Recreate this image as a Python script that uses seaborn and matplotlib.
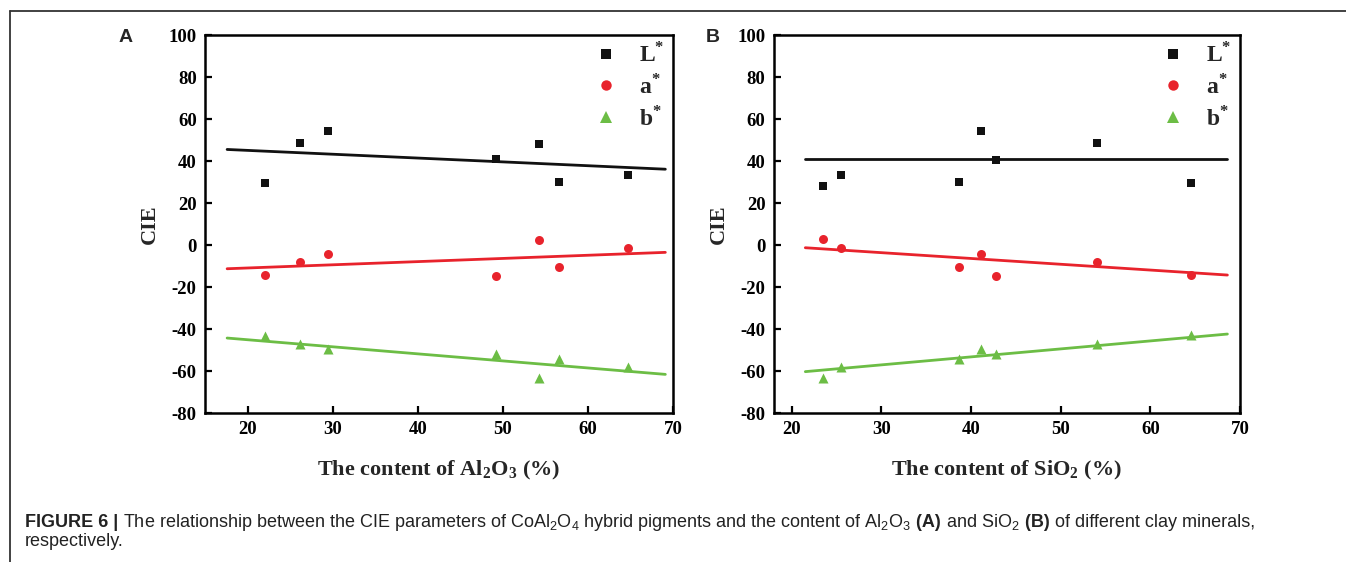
import numpy as np
import pandas as pd
import matplotlib
matplotlib.use("Agg")
import matplotlib.pyplot as plt
from matplotlib.lines import Line2D
import seaborn as sns

# ---- data -------------------------------------------------------------
# Panel A: CIE values against Al2O3 content (%)
al2o3 = [22.1, 26.2, 29.5, 49.2, 54.3, 56.6, 64.7]
L_a = [29.6, 48.8, 54.5, 40.8, 48.0, 30.2, 33.4]
a_a = [-14.3, -8.2, -4.4, -14.8, 2.5, -10.7, -1.6]
b_a = [-43.3, -47.2, -49.4, -52.1, -63.1, -54.3, -58.3]
# linear fits for panel A (x range and fitted values at the ends)
fit_x_a = [17.6, 69.1]
fitL_a = [45.5, 36.1]
fita_a = [-11.3, -3.5]
fitb_a = [-44.3, -61.6]

# Panel B: CIE values against SiO2 content (%)
sio2 = [23.5, 25.5, 38.7, 41.1, 42.8, 54.1, 64.5]
L_b = [28.2, 33.4, 30.2, 54.3, 40.6, 48.8, 29.6]
a_b = [2.7, -1.4, -10.7, -4.3, -14.8, -8.2, -14.3]
b_b = [-63.1, -58.0, -54.3, -49.4, -52.1, -47.2, -43.0]
fit_x_b = [21.5, 68.6]
fitL_b = [40.8, 40.8]
fita_b = [-1.3, -14.3]
fitb_b = [-60.3, -42.4]

series_names = ["L*", "a*", "b*"]
series_labels = [r"L$^{\mathbf{*}}$", r"a$^{\mathbf{*}}$", r"b$^{\mathbf{*}}$"]
yticks = [-80, -60, -40, -20, 0, 20, 40, 60, 80, 100]
xticks = [20, 30, 40, 50, 60, 70]

# ---- style ------------------------------------------------------------
sns.set_theme(style="white")
plt.rcParams["font.family"] = ["Liberation Serif", "DejaVu Serif"]
plt.rcParams["axes.unicode_minus"] = False
plt.rcParams["mathtext.fontset"] = "custom"
plt.rcParams["mathtext.rm"] = "Liberation Sans"
plt.rcParams["mathtext.bf"] = "Liberation Serif:bold"
plt.rcParams["mathtext.it"] = "Liberation Sans:italic"

colors = {"L*": "#111111", "a*": "#e8232c", "b*": "#6cbd45"}
markers = {"L*": "s", "a*": "o", "b*": "^"}
msizes = {"L*": 30, "a*": 42, "b*": 52}

W, H = 1346, 562
fig = plt.figure(figsize=(W / 100, H / 100), dpi=100)
axA = fig.add_axes([0.1523, 0.2651, 0.3477, 0.6726])
axB = fig.add_axes([0.5750, 0.2651, 0.3462, 0.6726])


def draw_panel(ax, x, ys, fit_x, fits, xlim, xlabel, letter, letter_px):
    for name, y, fy in zip(series_names, ys, fits):
        df = pd.DataFrame({"x": x, "y": y})
        sns.scatterplot(data=df, x="x", y="y", ax=ax, color=colors[name],
                        marker=markers[name], s=msizes[name], linewidth=0,
                        legend=False, zorder=3)
        fdf = pd.DataFrame({"x": fit_x, "y": fy})
        sns.lineplot(data=fdf, x="x", y="y", ax=ax, color=colors[name],
                     linewidth=2.0, legend=False, zorder=2)
    ax.set_xlim(*xlim)
    ax.set_ylim(-80, 100)
    ax.set_xticks(xticks)
    ax.set_yticks(yticks)
    for s in ax.spines.values():
        s.set_linewidth(1.8)
        s.set_color("black")
    ax.tick_params(axis="both", direction="in", length=5, width=1.6,
                   bottom=True, left=True, top=False, right=False,
                   labelsize=13.5, pad=6, colors="black")
    for lab in ax.get_xticklabels() + ax.get_yticklabels():
        lab.set_fontweight("bold")
    ax.set_xlabel(xlabel, fontsize=16, fontweight="bold", labelpad=15)
    ax.set_ylabel("CIE", fontsize=16, fontweight="bold", labelpad=6)

    handles = [Line2D([], [], linestyle="none", marker=markers[n],
                      color=colors[n], markersize=ms, markeredgewidth=0)
               for n, ms in zip(series_names, [6.5, 7.5, 8])]
    ax.legend(handles, series_labels, loc="upper right", frameon=False,
              bbox_to_anchor=(1.012, 1.018),
              prop={"family": "Liberation Serif", "weight": "bold", "size": 17},
              handletextpad=0.9, labelspacing=0.3, borderaxespad=0.2,
              handlelength=1.0)
    fig.text(letter_px / W, 1 - 37 / H, letter, fontsize=14, fontweight="bold",
             family="Liberation Sans", ha="center", va="center")


draw_panel(axA, al2o3, [L_a, a_a, b_a], fit_x_a, [fitL_a, fita_a, fitb_a],
           (15, 70), r"The content of Al$_\mathbf{2}$O$_\mathbf{3}$ (%)", "A", 126)
draw_panel(axB, sio2, [L_b, a_b, b_b], fit_x_b, [fitL_b, fita_b, fitb_b],
           (18, 70), r"The content of SiO$_\mathbf{2}$ (%)", "B", 713)

# ---- outer frame (top and left rule) ---------------------------------
fig.add_artist(Line2D([10 / W, 1.0], [1 - 11 / H, 1 - 11 / H],
                      transform=fig.transFigure, color="#333333", linewidth=1.3))
fig.add_artist(Line2D([10 / W, 10 / W], [0.0, 1 - 11 / H],
                      transform=fig.transFigure, color="#333333", linewidth=1.3))

# ---- caption ----------------------------------------------------------
fig.canvas.draw()
renderer = fig.canvas.get_renderer()


def caption_runs(runs, x_px, y_px, size=13.0):
    x = x_px
    for text, weight in runs:
        t = fig.text(x / W, 1 - y_px / H, text, fontsize=size,
                     fontweight=weight, family="Liberation Sans",
                     ha="left", va="baseline", color="#222222")
        bb = t.get_window_extent(renderer=renderer)
        x += bb.width


caption_runs([
    ("FIGURE 6 |", "bold"),
    (" The relationship between the CIE parameters of CoAl$_2$O$_4$ hybrid "
     "pigments and the content of Al$_2$O$_3$", "normal"),
    (" (A)", "bold"),
    (" and SiO$_2$", "normal"),
    (" (B)", "bold"),
    (" of different clay minerals,", "normal"),
], 25, 527)
caption_runs([("respectively.", "normal")], 25, 546)

fig.savefig("out.png", dpi=100)
